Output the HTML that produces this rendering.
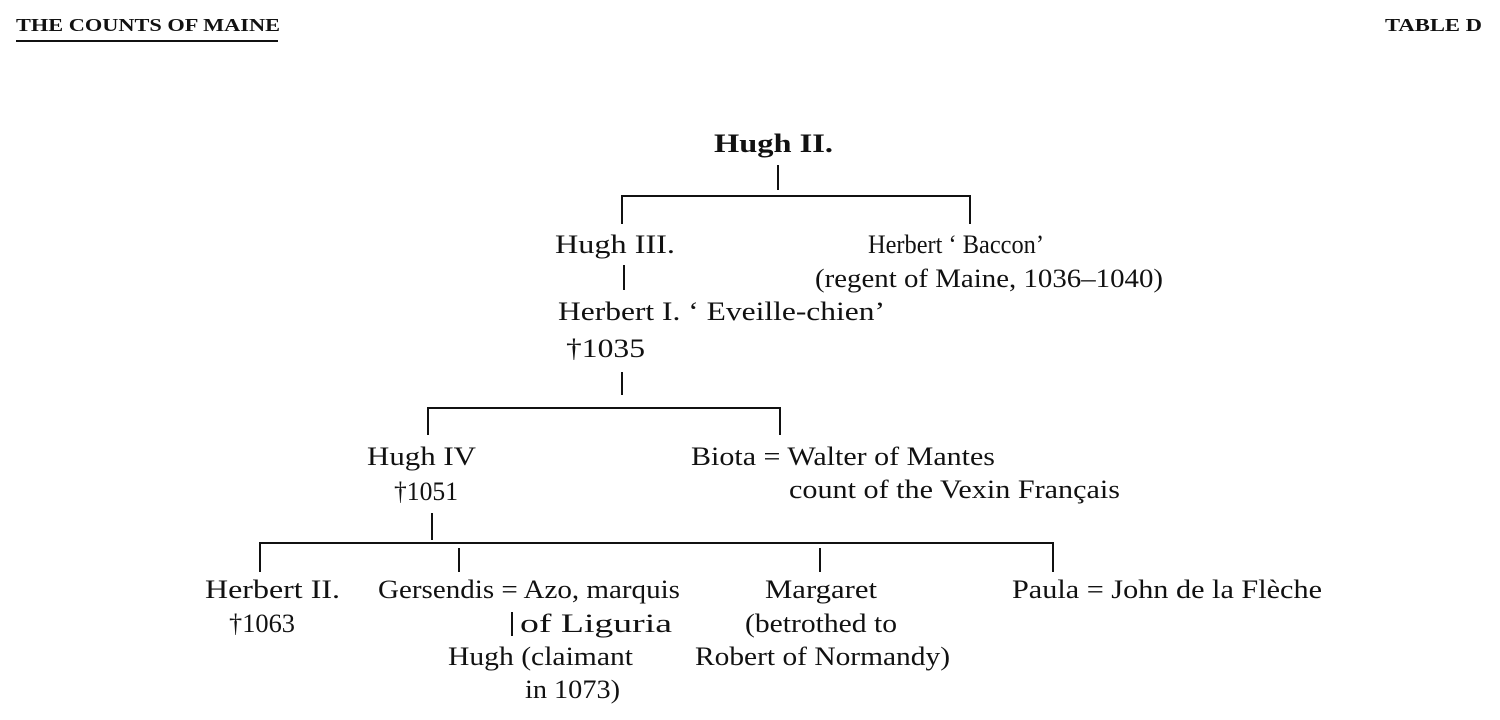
<!DOCTYPE html>
<html><head><meta charset="utf-8"><style>
html,body{margin:0;padding:0;background:#fff;}
svg{display:block;}
text{font-family:"Liberation Serif",serif;font-size:26px;fill:#111;}
</style></head><body>
<svg width="1500" height="720" viewBox="0 0 1500 720" xmlns="http://www.w3.org/2000/svg">
<rect width="1500" height="720" fill="#fff"/>
<text x="16" y="31" style="font-size:18px;font-weight:bold" textLength="264" lengthAdjust="spacingAndGlyphs">THE COUNTS OF MAINE</text>
<line x1="16" y1="41" x2="278" y2="41" stroke="#111" stroke-width="2"/>
<text x="1385" y="31" style="font-size:18px;font-weight:bold" textLength="97" lengthAdjust="spacingAndGlyphs">TABLE D</text>

<g stroke="#111" stroke-width="2" fill="none">
<line x1="778" y1="165" x2="778" y2="190"/>
<polyline points="622,224 622,196 970,196 970,224"/>
<line x1="624" y1="265" x2="624" y2="290"/>
<line x1="622" y1="372" x2="622" y2="395"/>
<polyline points="428,435 428,408 780,408 780,435"/>
<line x1="432" y1="513" x2="432" y2="540"/>
<polyline points="260,572 260,543 1053,543 1053,572"/>
<line x1="459" y1="548" x2="459" y2="572"/>
<line x1="820" y1="548" x2="820" y2="572"/>
<line x1="512" y1="612" x2="512" y2="636"/>
</g>

<text x="714" y="152" style="font-weight:bold" textLength="119" lengthAdjust="spacingAndGlyphs">Hugh II.</text>
<text x="555" y="253" textLength="120" lengthAdjust="spacingAndGlyphs">Hugh III.</text>
<text x="868" y="253" textLength="176" lengthAdjust="spacingAndGlyphs">Herbert ‘ Baccon’</text>
<text x="815" y="287" textLength="348" lengthAdjust="spacingAndGlyphs">(regent of Maine, 1036–1040)</text>
<text x="558" y="320" textLength="327" lengthAdjust="spacingAndGlyphs">Herbert I. ‘ Eveille-chien’</text>
<text x="566" y="357" textLength="79" lengthAdjust="spacingAndGlyphs">†1035</text>
<text x="367" y="465" textLength="109" lengthAdjust="spacingAndGlyphs">Hugh IV</text>
<text x="691" y="465" textLength="304" lengthAdjust="spacingAndGlyphs">Biota = Walter of Mantes</text>
<text x="789" y="498" textLength="331" lengthAdjust="spacingAndGlyphs">count of the Vexin Français</text>
<text x="394" y="500" textLength="64" lengthAdjust="spacingAndGlyphs">†1051</text>
<text x="205" y="598" textLength="135" lengthAdjust="spacingAndGlyphs">Herbert II.</text>
<text x="229" y="632" textLength="66" lengthAdjust="spacingAndGlyphs">†1063</text>
<text x="378" y="598" textLength="302" lengthAdjust="spacingAndGlyphs">Gersendis = Azo, marquis</text>
<text x="520" y="632" textLength="152" lengthAdjust="spacingAndGlyphs">of Liguria</text>
<text x="448" y="665" textLength="185" lengthAdjust="spacingAndGlyphs">Hugh (claimant</text>
<text x="525" y="698" textLength="95" lengthAdjust="spacingAndGlyphs">in 1073)</text>
<text x="765" y="598" textLength="112" lengthAdjust="spacingAndGlyphs">Margaret</text>
<text x="745" y="632" textLength="152" lengthAdjust="spacingAndGlyphs">(betrothed to</text>
<text x="695" y="665" textLength="255" lengthAdjust="spacingAndGlyphs">Robert of Normandy)</text>
<text x="1012" y="598" textLength="310" lengthAdjust="spacingAndGlyphs">Paula = John de la Flèche</text>
</svg>
</body></html>
